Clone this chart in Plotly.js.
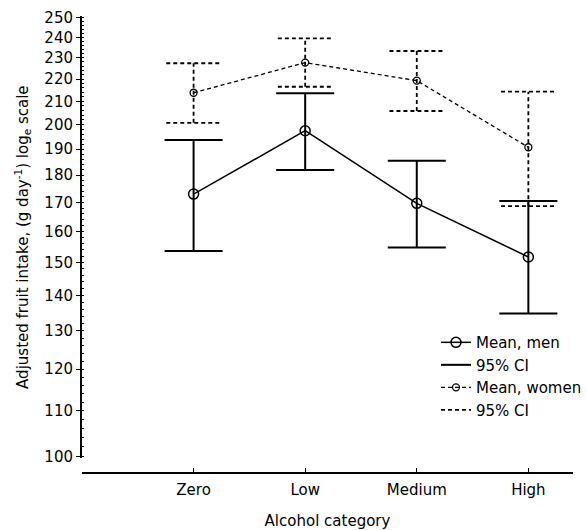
<!DOCTYPE html>
<html>
<head>
<meta charset="utf-8">
<script src="https://cdn.plot.ly/plotly-3.0.1.min.js"></script>
<style>html,body{margin:0;padding:0;background:#fff;}#chart{width:587px;height:530px;}</style>
</head>
<body>
<div id="chart"></div>
<script>
const categories = ['Zero', 'Low', 'Medium', 'High'];
const menMean = [173, 197.5, 169.7, 151.7];
const menLow = [153.6, 181.9, 154.7, 134.8];
const menHigh = [193.7, 213.6, 185.5, 170.5];
const womenMean = [213.8, 227.7, 219.3, 190.8];
const womenLow = [200.8, 216.5, 205.8, 168.7];
const womenHigh = [227.4, 239.5, 233.3, 214.3];
const yTicks = [100, 110, 120, 130, 140, 150, 160, 170, 180, 190, 200, 210, 220, 230, 240, 250];

const idx = categories.map((c, i) => i);
const minorTicks = [];
for (let v = 100; v <= 250; v += 2) minorTicks.push(v);

function ciPath(lo, hi, half) {
  const x = [], y = [];
  idx.forEach(i => {
    x.push(i - half, i + half, null, i, i, null, i - half, i + half, null);
    y.push(hi[i], hi[i], null, lo[i], hi[i], null, lo[i], lo[i], null);
  });
  return {x, y};
}
const menCI = ciPath(menLow, menHigh, 0.26);
const womenCI = ciPath(womenLow, womenHigh, 0.245);

const traces = [
  {x: idx, y: menMean, name: 'Mean, men', mode: 'lines+markers', type: 'scatter',
   line: {color: '#000', width: 1.5},
   marker: {symbol: 'circle-open', size: 10, color: '#000', line: {width: 1.5, color: '#000'}}},
  {x: menCI.x, y: menCI.y, name: '95% CI', mode: 'lines', type: 'scatter',
   line: {color: '#000', width: 2}, connectgaps: false},
  {x: idx, y: womenMean, name: 'Mean, women', mode: 'lines+markers', type: 'scatter',
   line: {color: '#000', width: 1.3, dash: '4px,3px'},
   marker: {symbol: 'circle-open', size: 7, color: '#000', line: {width: 1.3, color: '#000'}}},
  {x: womenCI.x, y: womenCI.y, name: '95% CI ', mode: 'lines', type: 'scatter',
   line: {color: '#000', width: 1.8, dash: '4px,3px'}, connectgaps: false}
];

const layout = {
  width: 587, height: 530,
  margin: {l: 82, r: 0, t: 16, b: 58},
  paper_bgcolor: '#fff', plot_bgcolor: '#fff',
  font: {family: 'DejaVu Sans, sans-serif', size: 15, color: '#000'},
  showlegend: true,
  legend: {x: 0.721, y: 0.32, xanchor: 'left', yanchor: 'top', bgcolor: 'rgba(0,0,0,0)',
           font: {size: 15}, tracegroupgap: 0, itemwidth: 30, traceorder: 'normal'},
  xaxis: {
    range: [-1, 3.4], tickmode: 'array', tickvals: idx, ticktext: categories,
    showline: true, linecolor: '#000', linewidth: 1.5, ticks: 'inside', ticklen: 4, tickcolor: '#000',
    showgrid: false, zeroline: false, anchor: 'free', position: 0,
    tickfont: {size: 15}, ticklabelstandoff: 3,
    title: {text: 'Alcohol category', font: {size: 15}, standoff: 19}
  },
  yaxis: {
    type: 'log', range: [Math.log10(99.6), Math.log10(251)], domain: [0.03, 1],
    tickmode: 'array', tickvals: yTicks, ticktext: yTicks.map(String),
    showline: true, linecolor: '#000', linewidth: 2, ticks: 'outside', ticklen: 4, tickcolor: '#000',
    minor: {tickmode: 'array', tickvals: minorTicks, ticks: 'inside', ticklen: 2, tickcolor: '#000', showgrid: false},
    showgrid: false, zeroline: false,
    tickfont: {size: 15},
    title: {text: 'Adjusted fruit intake, (g day<sup>-1</sup>) log<sub>e</sub> scale', font: {size: 15}, standoff: 12}
  }
};

Plotly.newPlot('chart', traces, layout, {displayModeBar: false, staticPlot: true});
</script>
</body>
</html>
